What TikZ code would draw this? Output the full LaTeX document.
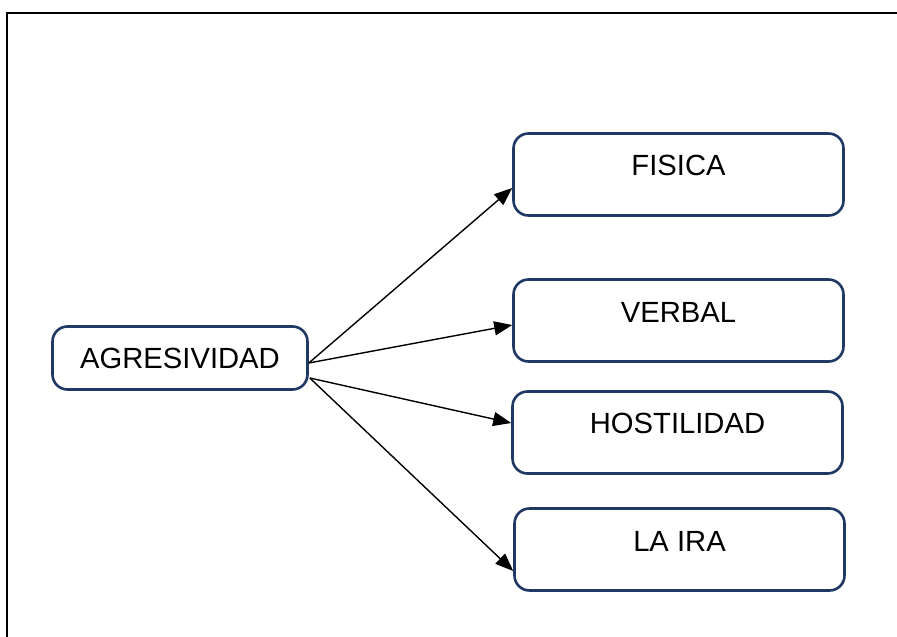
\documentclass[tikz,border=0pt]{standalone}
\usepackage{fontspec}
\setmainfont{Liberation Sans}
\usetikzlibrary{arrows.meta,calc}
\definecolor{boxnavy}{RGB}{32,56,100}
\tikzset{
  box/.style={draw=boxnavy, line width=2.6pt, rounded corners=15pt, fill=white, inner sep=0pt},
  catbox/.style={box, minimum width=330pt, minimum height=82pt},
  lbl/.style={font=\fontsize{29.2}{35}\selectfont, inner sep=0pt, anchor=center},
  conn/.style={line width=1.4pt, -{Triangle[length=18pt,width=14pt]}},
  frame/.style={line width=2.4pt, black}
}
\begin{document}
\begin{tikzpicture}[x=1pt,y=-1pt]
\useasboundingbox (0,0) rectangle (897,637);
\fill[white] (0,0) rectangle (897,637);
% frame
\coordinate (ftl) at (7,13);
\coordinate (ftr) at (898,13);
\coordinate (fbl) at (7,638);
\draw[frame] (ftr) -- (ftl) -- (fbl);
% root
\node[box, minimum width=255pt, minimum height=63pt] (agr) at (180,358) {};
\node[lbl] (agrt) at (agr.center) {AGRESIVIDAD};
% categories
\node[catbox] (fis) at (678.5,174.5) {};
\node[lbl] (fist) at ($(fis.north)+(0,33)$) {FISICA};
\node[catbox] (ver) at (678.5,320.5) {};
\node[lbl] (vert) at ($(ver.north)+(0,34)$) {VERBAL};
\node[catbox] (hos) at (677.5,432.5) {};
\node[lbl] (host) at ($(hos.north)+(0,33)$) {HOSTILIDAD};
\node[catbox] (ira) at (679.5,549.5) {};
\node[lbl] (irat) at ($(ira.north)+(0,34)$) {LA IRA};
% connector origins
\coordinate (o1) at ($(agr.east)+(0,5)$);
\coordinate (o2) at ($(agr.east)+(1,20)$);
% connectors
\draw[conn] (o1) -- ($(fis.west)+(0,13.5)$);
\draw[conn] (o1) -- ($(ver.west)+(0,4.5)$);
\draw[conn] (o2) -- ($(hos.west)+(0,-9.5)$);
\draw[conn] (o2) -- ($(ira.west)+(0,21.5)$);
\end{tikzpicture}
\end{document}
